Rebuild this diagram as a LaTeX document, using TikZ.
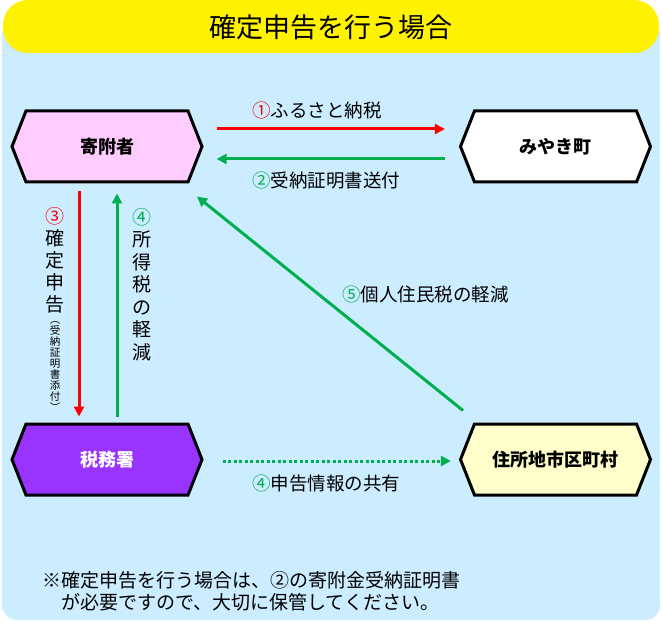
\documentclass[tikz,border=0pt]{standalone}
\usepackage{fontspec}
\setmainfont{Noto Sans CJK JP}
\usetikzlibrary{shapes.symbols,arrows.meta,positioning}
\definecolor{sky}{HTML}{CCECFF}
\definecolor{pinkbox}{HTML}{FFCCFF}
\definecolor{taxbox}{HTML}{9933FF}
\definecolor{cityfill}{HTML}{FFFFCC}
\definecolor{arrgreen}{HTML}{00B050}
\definecolor{arrred}{HTML}{FF0000}
\begin{document}
\begin{tikzpicture}[x=1pt,y=-1pt,
    hexa/.style={draw=black,line width=3pt,shape=signal,signal to=east and west,
      signal pointer angle=137,minimum width=190pt,minimum height=71pt,inner sep=0pt,
      font=\fontsize{18}{18}\selectfont\bfseries},
    lbl/.style={inner sep=0pt,font=\fontsize{18.5}{22}\selectfont},
    tip/.style={-{Triangle[length=10pt,width=10pt]}},
    redarr/.style={tip,draw=arrred,line width=3pt},
    grnarr/.style={tip,draw=arrgreen,line width=3pt}]
      \useasboundingbox (0,0) rectangle (662,623);
      \fill[sky,rounded corners=15pt] (2,20) rectangle (660,620);
      \fill[yellow,rounded corners=25pt] (3,0) rectangle (659,53);
      \node[inner sep=0pt,font=\fontsize{27}{27}\selectfont] (t) at (331,27) {確定申告を行う場合};
      \draw
        (107,146.5) node[hexa,fill=pinkbox] (0){寄附者}
        (555.5,146.5) node[hexa,fill=white] (1){みやき町}
        (107,459.5) node[hexa,fill=taxbox,text=white] (2){税務署}
        (555.5,459.5) node[hexa,fill=cityfill] (3){住所地市区町村};
      \begin{scope}[shorten <=0pt]
        \draw[redarr,shorten <=13pt,shorten >=14pt] ([yshift=17.5pt]0.east) -- ([yshift=17.5pt]1.west);
        \draw[grnarr,shorten <=14pt,shorten >=13pt] ([yshift=-12.5pt]1.west) -- ([yshift=-12.5pt]0.east);
        \draw[redarr,shorten <=8pt,shorten >=6pt] ([xshift=-28pt]0.south) -- ([xshift=-28pt]2.north);
        \draw[grnarr,shorten <=6pt,shorten >=10pt] ([xshift=10pt]2.north) -- ([xshift=10pt]0.south);
        \draw[grnarr] ([xshift=-92.5pt,yshift=12pt]3.north) -- ([xshift=90pt,yshift=-13pt]0.south);
        \draw[grnarr,dash pattern=on 3pt off 2.5pt,shorten <=19pt,shorten >=8pt] ([yshift=-1.5pt]2.east) -- ([yshift=-1.5pt]3.west);
      \end{scope}
      % labels
      \node[lbl,anchor=west] (l1) at (252,110) {\textcolor{arrred}{①}ふるさと納税};
      \node[lbl,anchor=west] (l2) at (252,180) {\textcolor{arrgreen}{②}受納証明書送付};
      \node[lbl,align=center,font=\fontsize{19}{22}\selectfont] (l3) at (55,260) {\textcolor{arrred}{③}\\確\\定\\申\\告};
      \node[inner sep=0pt,align=center,font=\fontsize{10.5}{11}\selectfont,below=8pt of l3] (l3s) {︵\\受\\納\\証\\明\\書\\添\\付\\︶};
      \node[lbl,align=center,font=\fontsize{19}{22.5}\selectfont] (l4) at (142,284.5) {\textcolor{arrgreen}{④}\\所\\得\\税\\の\\軽\\減};
      \node[lbl,anchor=west] (l5) at (342,294) {\textcolor{arrgreen}{⑤}個人住民税の軽減};
      \node[lbl,anchor=west] (l6) at (252,483) {\textcolor{arrgreen}{④}申告情報の共有};
      \node[lbl,anchor=west,align=left,font=\fontsize{19}{22}\selectfont] (n) at (42,591)
        {※確定申告を行う場合は、②の寄附金受納証明書\\　が必要ですので、大切に保管してください。};
    \end{tikzpicture}
\end{document}
